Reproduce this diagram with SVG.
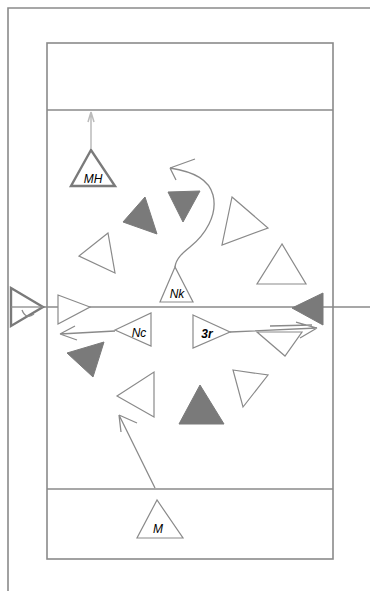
<svg xmlns="http://www.w3.org/2000/svg" width="370" height="591" viewBox="0 0 370 591">
<style>
.frame{fill:none;stroke:#8a8a8a;stroke-width:1.6}
.out{fill:#fff;stroke:#8a8a8a;stroke-width:1.2}
.thick{fill:#fff;stroke:#7a7a7a;stroke-width:2.4}
.fill{fill:#7a7a7a;stroke:#7a7a7a;stroke-width:1}
.con{fill:none;stroke:#8a8a8a;stroke-width:1.3}
.light{fill:none;stroke:#bbbbbb;stroke-width:1.5}
.lbl{font-family:"Liberation Sans",Arial,sans-serif;font-size:12px;font-style:italic;fill:#000;text-anchor:middle}
</style>
<rect width="370" height="591" fill="#fff"/>
<g id="frame">
<path class="frame" d="M8,591 V8 H370"/>
<rect class="frame" x="47" y="43" width="286" height="516"/>
<line class="frame" x1="47" y1="110" x2="333" y2="110"/>
<line class="frame" x1="47" y1="489" x2="333" y2="489"/>
</g>
<g id="connectors">
<line class="con" x1="43" y1="307" x2="370" y2="307"/>
<path class="light" d="M91,148 V112 M91,112 L88,122 M91,112 L94,122"/>
<path class="con" d="M175,267 C176,258 184,252 190,247 C205,235 218,215 213,195 C209,180 195,172 170,168 M170,168 L195,159 M170,168 L176,180"/>
<path class="con" d="M115,331 L60,334 M60,334 L75,326 M60,334 L77,340"/>
<path class="con" d="M230,332 L317,328 M317,328 L296,322 M317,328 L300,338 M270,326 L312,325"/>
<path class="con" d="M155,488 L119,415 M119,415 L137,423 M119,415 L121,432"/>
</g>
<g id="eye">
<path class="thick" d="M11,288 L43,307 L11,326 Z"/>
<line class="con" x1="11" y1="307" x2="43" y2="307"/>
<path class="con" d="M22,310 Q26,320 34,314"/>
</g>
<g id="t-right-in"><path class="out" d="M58,295 L90,307 L58,324 Z"/></g>
<g id="t-right-filled"><path class="fill" d="M292,308 L323,293 L323,325 Z"/></g>
<g id="node-mh"><path class="thick" d="M91,150 L71,186 L115,186 Z"/><text class="lbl" x="93" y="183">MH</text></g>
<g id="node-nk"><path class="out" d="M175,267 L160,302 L193,302 Z"/><text class="lbl" x="177" y="298">Nk</text></g>
<g id="node-nc"><path class="out" d="M115,330 L151,313 L151,346 Z"/><text class="lbl" x="139" y="337">Nc</text></g>
<g id="node-3r"><path class="out" d="M193,315 L230,332 L193,348 Z"/><text class="lbl" x="207" y="338" style="font-weight:bold">3r</text></g>
<g id="node-m"><path class="out" d="M157,500 L137,538 L183,538 Z"/><text class="lbl" x="158" y="533">M</text></g>
<g id="t1"><path class="fill" d="M168,192 L200,191 L183,222 Z"/></g>
<g id="t2"><path class="fill" d="M145,197 L123,222 L157,234 Z"/></g>
<g id="t3"><path class="out" d="M232,197 L268,228 L222,245 Z"/></g>
<g id="t4"><path class="out" d="M282,244 L257,284 L306,284 Z"/></g>
<g id="t5"><path class="out" d="M108,233 L79,256 L115,273 Z"/></g>
<g id="t6"><path class="fill" d="M67,353 L104,342 L93,377 Z"/></g>
<g id="t7"><path class="out" d="M117,396 L154,372 L154,417 Z"/></g>
<g id="t8"><path class="fill" d="M200,385 L179,424 L224,424 Z"/></g>
<g id="t9"><path class="out" d="M233,370 L268,375 L243,407 Z"/></g>
<g id="t10"><path class="out" d="M257,332 L302,332 L285,356 Z"/></g>
</svg>
